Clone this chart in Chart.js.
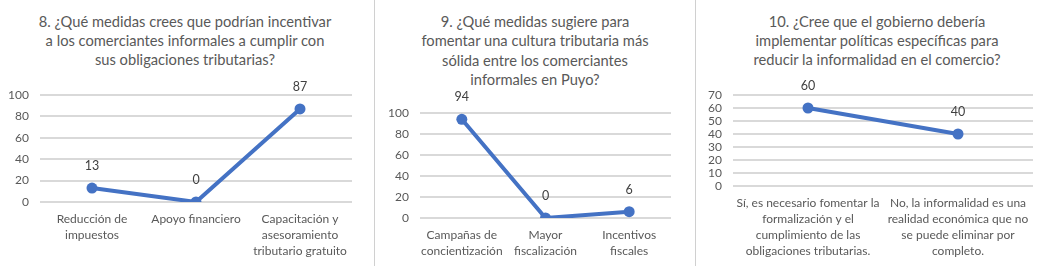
<!DOCTYPE html>
<html>
<head>
<meta charset="utf-8">
<script src="https://cdn.jsdelivr.net/npm/chart.js@4/dist/chart.umd.min.js"></script>
<style>
  html, body { margin: 0; padding: 0; background: #fff; }
  #wrap { position: relative; width: 1046px; height: 266px; overflow: hidden; background: #fff; }
  canvas { position: absolute; top: 0; }
  .title { position: absolute; font-family: Lato, "Open Sans", sans-serif; font-size: 14.7px; color: #595959;
           text-align: center; white-space: nowrap; transform: translateX(-50%); }
  #box2 { position: absolute; left: 374px; top: -2px; width: 320px; height: 270px;
          border-left: 1px solid #d0d0d0; border-right: 1px solid #d0d0d0; }
</style>
</head>
<body>
<div id="wrap">
  <div id="box2"></div>
  <div class="title" id="t1" style="left:185px; top:12px; line-height:19px;"></div>
  <div class="title" id="t2" style="left:535px; top:12px; line-height:19.3px;"></div>
  <div class="title" id="t3" style="left:877px; top:12px; line-height:19px;"></div>
  <canvas id="c1" width="370" height="266" style="left:0px;"></canvas>
  <canvas id="c2" width="318" height="266" style="left:376px;"></canvas>
  <canvas id="c3" width="350" height="266" style="left:696px;"></canvas>
</div>
<script>
// ---- Data ----
const title1 = ["8. ¿Qué medidas crees que podrían incentivar", "a los comerciantes informales a cumplir con", "sus obligaciones tributarias?"];
const categories1 = [["Reducción de", "impuestos"], ["Apoyo financiero"], ["Capacitación y", "asesoramiento", "tributario gratuito"]];
const values1 = [13, 0, 87];
const yTicks1 = [0, 20, 40, 60, 80, 100];

const title2 = ["9. ¿Qué medidas sugiere para", "fomentar una cultura tributaria más", "sólida entre los comerciantes", "informales en Puyo?"];
const categories2 = [["Campañas de", "concientización"], ["Mayor", "fiscalización"], ["Incentivos", "fiscales"]];
const values2 = [94, 0, 6];
const yTicks2 = [0, 20, 40, 60, 80, 100];

const title3 = ["10. ¿Cree que el gobierno debería", "implementar políticas específicas para", "reducir la informalidad en el comercio?"];
const categories3 = [["Sí, es necesario fomentar la", "formalización y el", "cumplimiento de las", "obligaciones tributarias."],
                     ["No, la informalidad es una", "realidad económica que no", "se puede eliminar por", "completo."]];
const values3 = [60, 40];
const yTicks3 = [0, 10, 20, 30, 40, 50, 60, 70];

// ---- Styles ----
const FONT = "Lato, 'Open Sans', sans-serif";
const TEXT = "#595959";
const LINE = "#4472C4";
const GRID = "#d9d9d9";

function setTitle(id, lines) {
  const el = document.getElementById(id);
  lines.forEach((l, i) => {
    if (i) el.appendChild(document.createElement("br"));
    el.appendChild(document.createTextNode(l));
  });
}
setTitle("t1", title1);
setTitle("t2", title2);
setTitle("t3", title3);

const valueLabels = {
  id: "valueLabels",
  afterDatasetsDraw(chart) {
    const ctx = chart.ctx;
    const meta = chart.getDatasetMeta(0);
    const data = chart.data.datasets[0].data;
    ctx.save();
    ctx.font = "12.5px " + FONT;
    ctx.fillStyle = "#404040";
    ctx.textAlign = "center";
    ctx.textBaseline = "middle";
    meta.data.forEach((pt, i) => {
      ctx.fillText(String(data[i]), pt.x, pt.y - 22);
    });
    ctx.restore();
  }
};

function makeChart(id, labels, values, ticks, cfg) {
  const maxV = ticks[ticks.length - 1];
  return new Chart(document.getElementById(id), {
    type: "line",
    data: {
      labels: labels,
      datasets: [{
        data: values,
        borderColor: LINE,
        backgroundColor: LINE,
        borderWidth: 4,
        pointRadius: 5.5,
        pointBorderWidth: 0,
        pointBackgroundColor: LINE,
        tension: 0,
        fill: false
      }]
    },
    options: {
      responsive: false,
      devicePixelRatio: 1,
      animation: false,
      layout: { padding: { top: cfg.top, right: cfg.right, left: 0, bottom: 0 } },
      plugins: { legend: { display: false }, tooltip: { enabled: false }, title: { display: false } },
      scales: {
        x: {
          type: "category",
          offset: true,
          grid: { display: false, drawTicks: false },
          border: { display: false },
          ticks: {
            color: TEXT, font: { family: FONT, size: 12, lineHeight: 16 / 12 },
            padding: cfg.xpad, maxRotation: 0, minRotation: 0, autoSkip: false
          },
          afterFit: s => { s.height = cfg.xh; }
        },
        y: {
          min: 0, max: maxV,
          grid: { color: GRID, lineWidth: 2, drawTicks: false },
          border: { display: false },
          ticks: { color: TEXT, font: { family: FONT, size: 12, lineHeight: 1 }, padding: 11, autoSkip: false },
          afterBuildTicks: s => { s.ticks = ticks.map(v => ({ value: v })); },
          afterFit: s => { s.width = cfg.yw; }
        }
      }
    },
    plugins: [valueLabels]
  });
}

makeChart("c1", categories1, values1, yTicks1, { top: 95, right: 18, yw: 40, xh: 64, xpad: 9 });
makeChart("c2", categories2, values2, yTicks2, { top: 113, right: 23, yw: 44, xh: 48, xpad: 9 });
makeChart("c3", categories3, values3, yTicks3, { top: 95, right: 13, yw: 37, xh: 80, xpad: 9 });
</script>
</body>
</html>
